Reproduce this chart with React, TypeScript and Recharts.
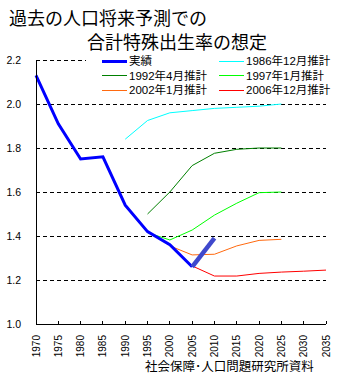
import { LineChart, Line, XAxis, YAxis, CartesianGrid } from 'recharts'

const years = [1970, 1975, 1980, 1985, 1990, 1995, 2000, 2005, 2010, 2015, 2020, 2025, 2030, 2035]
const yTicks = [1.0, 1.2, 1.4, 1.6, 1.8, 2.0, 2.2]

// 実績 (5年ごと)
const actual = [2.13, 1.91, 1.75, 1.76, 1.54, 1.42, 1.36, 1.26, null, null, null, null, null, null]
const actualLatest = [null, null, null, null, null, null, null, 1.26, 1.39, null, null, null, null, null]
// 推計 (中位)
const proj1986 = [null, null, null, null, 1.84, 1.925, 1.96, 1.97, 1.98, 1.985, 1.99, 2.0, null, null]
const proj1992 = [null, null, null, null, null, 1.50, 1.60, 1.72, 1.776, 1.794, 1.80, 1.80, null, null]
const proj1997 = [null, null, null, null, null, 1.415, 1.382, 1.427, 1.495, 1.549, 1.597, 1.60, null, null]
const proj2002 = [null, null, null, null, null, null, 1.355, 1.314, 1.317, 1.355, 1.38, 1.385, null, null]
const proj2006 = [null, null, null, null, null, null, null, 1.264, 1.218, 1.218, 1.23, 1.236, 1.24, 1.245]

const data = years.map((year, i) => ({
  year,
  actual: actual[i],
  actualLatest: actualLatest[i],
  proj1986: proj1986[i],
  proj1992: proj1992[i],
  proj1997: proj1997[i],
  proj2002: proj2002[i],
  proj2006: proj2006[i],
}))

const series = [
  { key: 'proj1986', name: '1986年12月推計', color: '#00ffff', width: 1 },
  { key: 'proj1992', name: '1992年4月推計', color: '#008000', width: 1 },
  { key: 'proj1997', name: '1997年1月推計', color: '#00ff00', width: 1 },
  { key: 'proj2002', name: '2002年1月推計', color: '#ff6a10', width: 1 },
  { key: 'proj2006', name: '2006年12月推計', color: '#ff0000', width: 1 },
]

// legend order: 実績 first, two columns
const legendItems = [
  { name: '実績', color: '#0000ff', width: 3 },
  ...series,
]

const FONT = '"Liberation Sans", "Noto Sans CJK JP", sans-serif'
const JP = '"Noto Sans CJK JP", sans-serif'

const XTick = (props: any) => {
  const { x, y, payload } = props
  const ty = y + 11
  return (
    <g>
      <line x1={x} x2={x} y1={y} y2={y - 3} stroke="#000" shapeRendering="crispEdges" />
      <text x={x} y={ty} transform={`rotate(-90, ${x}, ${ty})`} textAnchor="end" dominantBaseline="central"
        fontSize={10} fill="#000" fontFamily={FONT}>{payload.value}</text>
    </g>
  )
}

export default function App() {
  return (
    <div style={{ position: 'absolute', left: 0, top: 0, width: 354, height: 382, background: '#fff', fontFamily: FONT }}>
      {/* title */}
      <div style={{ position: 'absolute', left: 9, top: 7, fontSize: 18, lineHeight: '20px', fontFamily: JP, whiteSpace: 'nowrap' }}>過去の人口将来予測での</div>
      <div style={{ position: 'absolute', left: 87, top: 31, fontSize: 18, lineHeight: '20px', fontFamily: JP, whiteSpace: 'nowrap' }}>合計特殊出生率の想定</div>

      <LineChart width={354} height={382} data={data} margin={{ top: 60, right: 28, bottom: 0, left: 0 }}>
        <CartesianGrid vertical={false} stroke="#000" strokeDasharray="4 3" shapeRendering="crispEdges" />
        <XAxis type="number" dataKey="year" domain={[1970, 2035]} ticks={years} interval={0} height={58}
          axisLine={{ stroke: '#000', shapeRendering: 'crispEdges' }} tickLine={false} tickSize={0} tickMargin={0} tick={<XTick />} />
        <YAxis type="number" domain={[1.0, 2.2]} ticks={yTicks} width={36} axisLine={{ stroke: '#000', shapeRendering: 'crispEdges' }}
          tickLine={false} tickSize={0} tickMargin={15} tickFormatter={(v: number) => v.toFixed(1)}
          tick={{ fill: '#000', fontSize: 10.5, fontFamily: FONT }} />
        {series.map(s => (
          <Line key={s.key} type="linear" dataKey={s.key} name={s.name} stroke={s.color} strokeWidth={s.width}
            dot={false} connectNulls={false} isAnimationActive={false} />
        ))}
        <Line type="linear" dataKey="actual" name="実績" stroke="#0000ff" strokeWidth={3} dot={false} isAnimationActive={false} />
        <Line type="linear" dataKey="actualLatest" stroke="#3f48cc" strokeWidth={4.5} dot={false} isAnimationActive={false} />
      </LineChart>

      {/* legend */}
      <div style={{ position: 'absolute', left: 86, top: 52, width: 250, height: 46, background: '#fff' }}>
        {legendItems.map((it, i) => {
          const col = i % 2
          const row = Math.floor(i / 2)
          const cy = 9 + row * 14.5
          const lx = col === 0 ? 16 : 133
          return (
            <div key={it.name}>
              <div style={{ position: 'absolute', left: lx, top: cy - it.width / 2, width: 25, height: it.width, background: it.color }} />
              <span style={{ position: 'absolute', left: lx + 27, top: cy - 7, fontSize: 11.5, lineHeight: '14px', whiteSpace: 'nowrap', color: '#000' }}>{it.name}</span>
            </div>
          )
        })}
      </div>

      {/* source */}
      <div style={{ position: 'absolute', left: 145, top: 359, fontSize: 12.5, lineHeight: '14px', fontFamily: JP, whiteSpace: 'nowrap' }}>社会保障･人口問題研究所資料</div>
    </div>
  )
}
